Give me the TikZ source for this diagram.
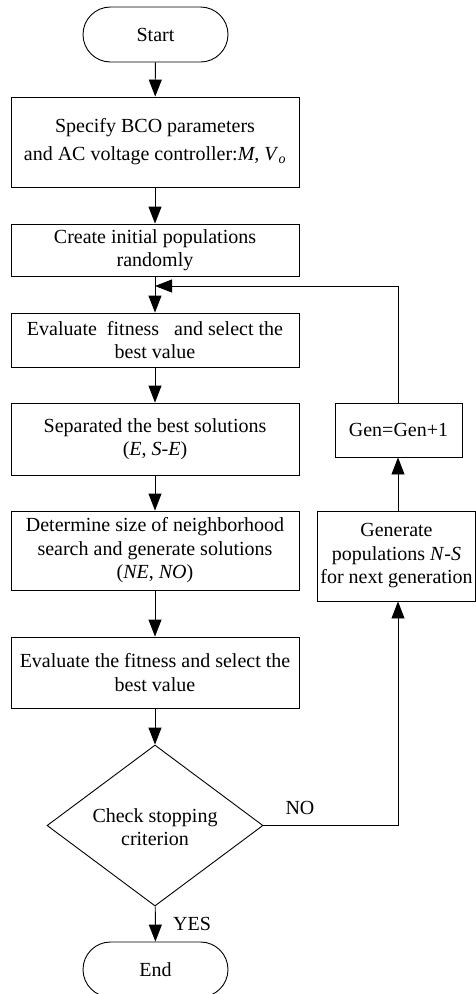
\documentclass[tikz,border=0pt]{standalone}
\usepackage{fontspec}
\setmainfont{Liberation Serif}
\usetikzlibrary{shapes.misc,shapes.geometric,arrows.meta}
\begin{document}
\begin{tikzpicture}[x=1pt,y=-1pt,
  every node/.style={font=\fontsize{20}{23.5}\selectfont, align=center, inner sep=0pt},
  procbox/.style={draw, line width=0.9pt, minimum width=288pt},
  termbox/.style={draw, line width=0.9pt, rounded rectangle, minimum width=145pt, minimum height=55pt},
  decbox/.style={draw, line width=0.9pt, diamond, minimum width=216pt, minimum height=161pt},
  flow/.style={line width=0.9pt, -{Triangle[length=17pt,width=13pt]}},
  plain/.style={line width=0.9pt}]
\useasboundingbox (0,0) rectangle (476,994);
\node[termbox] (start) at (155.5,34.5) {Start};
\node[procbox, minimum height=90pt, font=\fontsize{20}{28}\selectfont] (b1) at (155,142) {Specify BCO parameters\\and AC voltage controller:\textit{M}, \textit{V}\textsubscript{\textit{o}}};
\node[procbox, minimum height=52pt] (b2) at (155,250) {Create initial populations\\randomly};
\node[procbox, minimum height=54pt] (b3) at (155,340) {Evaluate\ \ fitness\ \ \ and select the\\best value};
\node[procbox, minimum height=72pt] (b4) at (155,439) {Separated the best solutions\\(\textit{E}, \textit{S}-\textit{E})};
\node[procbox, minimum height=79pt] (b5) at (155,550.5) {Determine size of neighborhood\\search and generate solutions\\(\textit{NE}, \textit{NO})};
\node[procbox, minimum height=71pt] (b6) at (155,672.5) {Evaluate the fitness and select the\\best value};
\node[decbox] (dec) at (155,825.5) {};
\node at (155,827) {Check stopping\\criterion};
\node[termbox] (end) at (155.5,969.5) {End};
\node[draw, line width=0.9pt, minimum width=127pt, minimum height=54pt] (gen) at (398.5,430) {Gen=Gen+1};
\node[draw, line width=0.9pt, minimum width=158pt, minimum height=90pt] (genp) at (396.5,556) {Generate\\populations \textit{N}-\textit{S}\\for next generation};
\coordinate (merge) at (155,286);
\coordinate (top) at (398,286);
\coordinate (corner) at (398,825.5);
\draw[flow] (start) -- (b1);
\draw[flow] (b1) -- (b2);
\draw[flow] (b2) -- (b3);
\draw[flow] (b3) -- (b4);
\draw[flow] (b4) -- (b5);
\draw[flow] (b5) -- (b6);
\draw[flow] (b6) -- (dec);
\draw[flow] (dec) -- (end);
\draw[plain] (dec.east) -- (corner);
\draw[flow] (corner) -- (corner |- genp.south);
\draw[flow] (genp.north -| corner) -- (corner |- gen.south);
\draw[plain] (gen.north -| corner) -- (top);
\draw[flow] (top) -- (merge);
\node (no) at (300,808) {NO};
\node (yes) at (192,924) {YES};
\end{tikzpicture}
\end{document}
